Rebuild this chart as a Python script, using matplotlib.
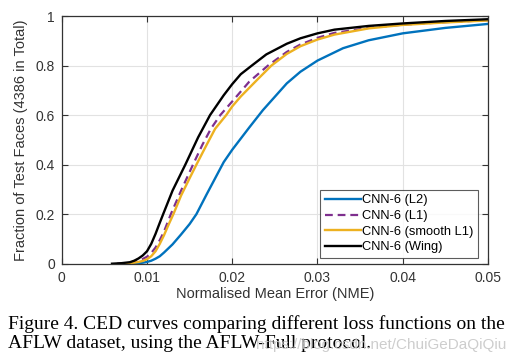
import matplotlib
matplotlib.use("Agg")
import matplotlib.pyplot as plt

plt.rcParams['font.family'] = ['Liberation Sans', 'DejaVu Sans']

# region data
xL2 = [0.0079, 0.009, 0.0095, 0.010, 0.0105, 0.011, 0.0115, 0.012, 0.013, 0.014, 0.015,
       0.0158, 0.017, 0.018, 0.019, 0.020, 0.021, 0.022, 0.0236, 0.0264, 0.028, 0.030,
       0.033, 0.036, 0.040, 0.045, 0.050]
yL2 = [0.0, 0.002, 0.004, 0.007, 0.012, 0.02, 0.03, 0.045, 0.078, 0.118, 0.16,
       0.2, 0.28, 0.345, 0.41, 0.46, 0.505, 0.55, 0.62, 0.728, 0.775, 0.82,
       0.87, 0.902, 0.93, 0.952, 0.968]

xL1 = [0.0065, 0.008, 0.0085, 0.009, 0.0095, 0.010, 0.0105, 0.011, 0.0115, 0.012, 0.0128,
       0.014, 0.0154, 0.0165, 0.0175, 0.0186, 0.020, 0.022, 0.0242, 0.0264, 0.028, 0.030,
       0.032, 0.036, 0.040, 0.045, 0.050]
yL1 = [0.0, 0.004, 0.007, 0.012, 0.019, 0.028, 0.043, 0.065, 0.095, 0.13, 0.2,
       0.295, 0.4, 0.48, 0.545, 0.6, 0.655, 0.735, 0.8, 0.855, 0.885, 0.912,
       0.932, 0.952, 0.965, 0.975, 0.983]

xSL1 = [0.0074, 0.008, 0.0085, 0.009, 0.0095, 0.010, 0.0105, 0.011, 0.0115, 0.012, 0.0125,
        0.0131, 0.014, 0.015, 0.0158, 0.017, 0.018, 0.0193, 0.020, 0.021, 0.022, 0.023,
        0.0246, 0.0264, 0.028, 0.030, 0.032, 0.036, 0.040, 0.045, 0.050]
ySL1 = [0.0, 0.002, 0.004, 0.007, 0.011, 0.018, 0.03, 0.05, 0.08, 0.115, 0.155,
        0.2, 0.275, 0.345, 0.4, 0.48, 0.545, 0.6, 0.635, 0.675, 0.71, 0.745,
        0.8, 0.847, 0.878, 0.905, 0.925, 0.95, 0.964, 0.974, 0.982]

xWing = [0.0059, 0.007, 0.008, 0.0085, 0.009, 0.0095, 0.010, 0.0105, 0.011, 0.0115, 0.0119,
         0.013, 0.0145, 0.016, 0.0174, 0.019, 0.020, 0.021, 0.0223, 0.024, 0.0264, 0.028,
         0.030, 0.032, 0.036, 0.040, 0.045, 0.050]
yWing = [0.0, 0.002, 0.006, 0.012, 0.021, 0.033, 0.05, 0.08, 0.12, 0.165, 0.2,
         0.295, 0.4, 0.51, 0.6, 0.68, 0.725, 0.765, 0.8, 0.845, 0.888, 0.91,
         0.93, 0.945, 0.96, 0.97, 0.98, 0.987]

labels = ['CNN-6 (L2)', 'CNN-6 (L1)', 'CNN-6 (smooth L1)', 'CNN-6 (Wing)']
xticks = [0, 0.01, 0.02, 0.03, 0.04, 0.05]
xticklabels = ['0', '0.01', '0.02', '0.03', '0.04', '0.05']
yticks = [0, 0.2, 0.4, 0.6, 0.8, 1]
yticklabels = ['0', '0.2', '0.4', '0.6', '0.8', '1']
caption = ('Figure 4. CED curves comparing different loss functions on the\n'
           'AFLW dataset, using the AFLW-Full protocol.')
# endregion

fig = plt.figure(figsize=(5.16, 3.59), dpi=100)
ax = fig.add_axes([0.1196, 0.2655, 0.8261, 0.6899])

ax.plot(xL2, yL2, color='#0072BD', lw=1.7, label=labels[0])
ax.plot(xL1, yL1, color='#7E2F8E', lw=1.6, ls=(0, (3.5, 2.2)), label=labels[1])
ax.plot(xSL1, ySL1, color='#EDB120', lw=1.7, label=labels[2])
ax.plot(xWing, yWing, color='black', lw=1.7, label=labels[3])

ax.set_xlim(0, 0.05)
ax.set_ylim(0, 1)
ax.set_xticks(xticks)
ax.set_xticklabels(xticklabels)
ax.set_yticks(yticks)
ax.set_yticklabels(yticklabels)
ax.grid(True, color='#e2e2e2', lw=0.8)
ax.set_axisbelow(True)
ax.tick_params(direction='in', top=True, right=True, labelsize=10, colors='#333333',
               length=4, width=0.8, pad=5)
for s in ax.spines.values():
    s.set_color('#333333')
    s.set_linewidth(0.9)

ax.set_xlabel('Normalised Mean Error (NME)', fontsize=10.5, color='#333333', labelpad=2)
ax.set_ylabel('Fraction of Test Faces (4386 in Total)', fontsize=10.5, color='#333333',
              labelpad=5)

leg = ax.legend(loc='lower right', bbox_to_anchor=(0.977, 0.023), fontsize=9.3,
                frameon=True, fancybox=False, edgecolor='#333333', handlelength=2.8,
                handletextpad=0.1, borderpad=0.35, labelspacing=0.28, borderaxespad=0)
leg.get_frame().set_linewidth(0.8)

fig.text(0.016, 0.071, caption, fontsize=14, family='Liberation Serif',
         va='center', ha='left', linespacing=1.2)
fig.text(0.497, 0.039, 'https://blog.csdn.net/ChuiGeDaQiQiu', fontsize=11,
         color='#c8c8c8', alpha=0.9, va='center', ha='left')

fig.savefig('out.png', dpi=100)
